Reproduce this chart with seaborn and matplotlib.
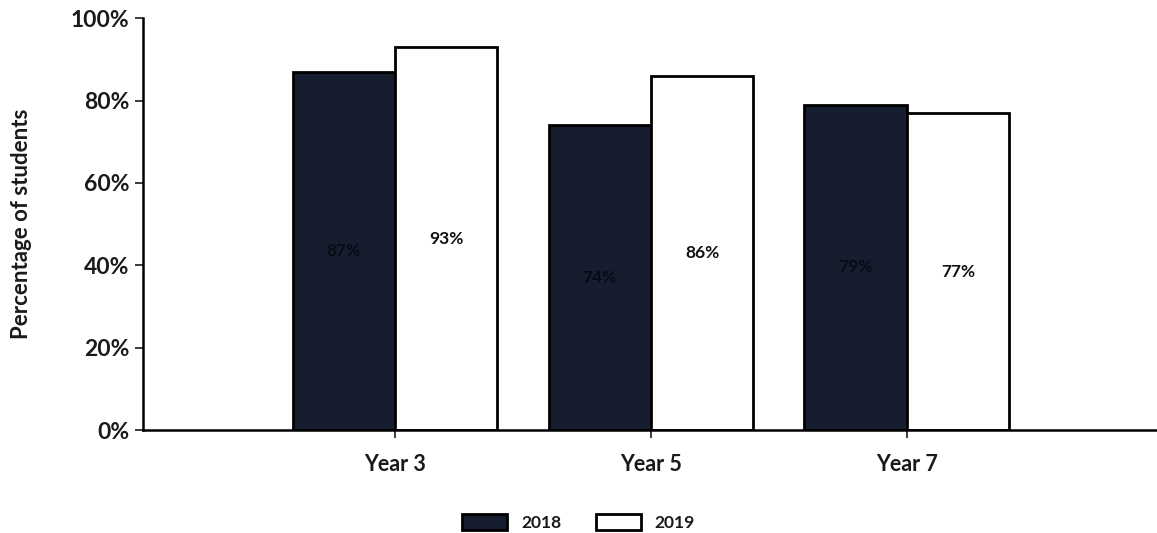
import matplotlib
matplotlib.use("Agg")
import matplotlib.pyplot as plt
import seaborn as sns
import pandas as pd
from matplotlib.ticker import PercentFormatter

categories = ["Year 3", "Year 5", "Year 7"]
years = ["2018", "2019"]
values_2018 = [87, 74, 79]
values_2019 = [93, 86, 77]

df = pd.DataFrame({
    "Year level": categories * 2,
    "Cohort": [years[0]] * 3 + [years[1]] * 3,
    "Percent": values_2018 + values_2019,
})

sns.set_theme(style="white")
plt.rcParams["font.family"] = ["Lato", "DejaVu Sans"]

fig = plt.figure(figsize=(11.57, 5.33), dpi=100)
ax = fig.add_axes([0.1236, 0.193, 0.8764, 0.773])

palette = {"2018": "#111c32", "2019": "#ffffff"}
sns.barplot(data=df, x="Year level", y="Percent", hue="Cohort",
            palette=palette, edgecolor="black", linewidth=2,
            width=0.8, ax=ax, legend=True)

ax.set_ylim(0, 100)
ax.set_xlim(-0.984, 2.977)
ax.set_yticks([0, 20, 40, 60, 80, 100])
ax.yaxis.set_major_formatter(PercentFormatter(decimals=0))
ax.set_xlabel("")
ax.set_ylabel("Percentage of students", fontsize=16, fontweight="bold",
              color="#1a1a1a", labelpad=28)
ax.tick_params(axis="both", colors="#1a1a1a", length=6,
               width=1.2, direction="out", left=True, bottom=True)
ax.tick_params(axis="y", labelsize=16.5, pad=4)
ax.tick_params(axis="x", labelsize=15.5, pad=11)
for lbl in ax.get_xticklabels() + ax.get_yticklabels():
    lbl.set_fontweight("bold")

for side in ["top", "right"]:
    ax.spines[side].set_visible(False)
for side in ["left", "bottom"]:
    ax.spines[side].set_color("black")
    ax.spines[side].set_linewidth(1.8)

label_colors = ["#070b14", "#111111"]
for cont, col in zip(ax.containers, label_colors):
    ax.bar_label(cont, labels=[f"{v:.0f}%" for v in cont.datavalues],
                 label_type="center", fontsize=12.5, fontweight="bold",
                 color=col)

handles, labels = ax.get_legend_handles_labels()
ax.get_legend().remove()
leg = fig.legend(handles, labels, loc="lower center", ncol=2, frameon=False,
                 bbox_to_anchor=(0.5, -0.025), fontsize=12.5,
                 handlelength=2.6, handleheight=1.0, columnspacing=2.0)
for t in leg.get_texts():
    t.set_fontweight("bold")
    t.set_color("#1a1a1a")

fig.savefig("out.png", dpi=100)
